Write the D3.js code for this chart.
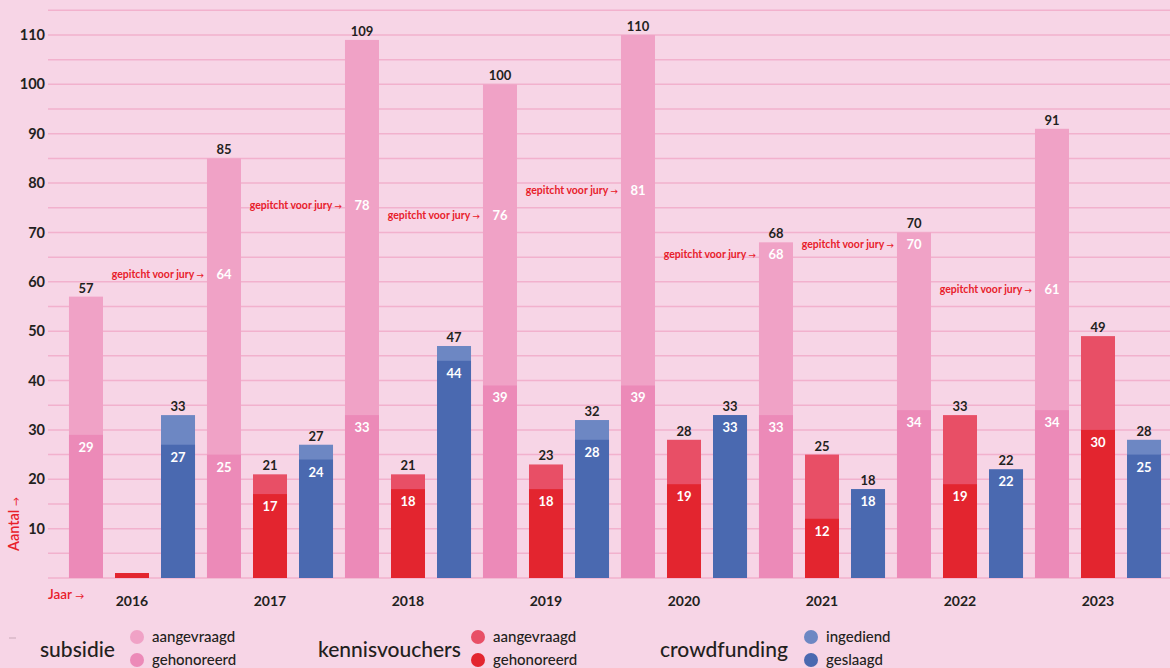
<!DOCTYPE html>
<html>
<head>
<meta charset="utf-8">
<script src="https://cdn.jsdelivr.net/npm/d3@7"></script>
<style>
  html, body { margin: 0; padding: 0; background: #f7d5e6; }
  svg { display: block; font-family: Lato, "Open Sans", sans-serif; }
</style>
</head>
<body>
<div id="chart"></div>
<script>
// data
const years = ['2016', '2017', '2018', '2019', '2020', '2021', '2022', '2023'];
const subsidieAangevraagd = [57, 85, 109, 100, 110, 68, 70, 91];
const subsidieGehonoreerd = [29, 25, 33, 39, 39, 33, 34, 34];
const subsidiePitch = [null, 64, 78, 76, 81, 68, 70, 61];
const kvAangevraagd = [1, 21, 21, 23, 28, 25, 33, 49];
const kvGehonoreerd = [1, 17, 18, 18, 19, 12, 19, 30];
const cfIngediend = [33, 27, 47, 32, 33, 18, 22, 28];
const cfGeslaagd = [27, 24, 44, 28, 33, 18, 22, 25];
const yTicks = [10, 20, 30, 40, 50, 60, 70, 80, 90, 100, 110];

const width = 1170, height = 668;

const series = [
  { key: 'subsidie', total: subsidieAangevraagd, part: subsidieGehonoreerd,
    light: '#f0a2c6', dark: '#ec8ab8', labels: ['aangevraagd', 'gehonoreerd'] },
  { key: 'kennisvouchers', total: kvAangevraagd, part: kvGehonoreerd,
    light: '#e84f66', dark: '#e3252f', labels: ['aangevraagd', 'gehonoreerd'] },
  { key: 'crowdfunding', total: cfIngediend, part: cfGeslaagd,
    light: '#6d87c3', dark: '#4a69b0', labels: ['ingediend', 'geslaagd'] }
];

const svg = d3.select('#chart').append('svg')
  .attr('width', width)
  .attr('height', height);

svg.append('rect').attr('width', width).attr('height', height).attr('fill', '#f7d5e6');

const y = d3.scaleLinear().domain([0, 110]).range([578, 35]);
const x0 = d3.scaleBand().domain(years).range([63, 1167]);
const x1 = d3.scaleBand().domain(series.map(s => s.key))
  .range([0, x0.bandwidth()])
  .paddingInner(0.2609)
  .paddingOuter(0.13);

// gridlines every 5
svg.append('g')
  .selectAll('line')
  .data(d3.range(0, 120, 5))
  .enter()
  .append('line')
  .attr('x1', 48).attr('x2', width)
  .attr('y1', d => y(d)).attr('y2', d => y(d))
  .attr('stroke', '#f2b1cd')
  .attr('stroke-width', 1.5);

// y tick labels
svg.append('g')
  .selectAll('text')
  .data(yTicks)
  .enter()
  .append('text')
  .attr('x', 45)
  .attr('y', d => y(d))
  .attr('dy', '0.35em')
  .attr('text-anchor', 'end')
  .attr('font-size', 14.5)
  .attr('font-weight', 700)
  .attr('fill', '#231f20')
  .text(d => d);

// red label with a small arrow behind it
function arrowText(sel, label, size, arrowSize) {
  sel.append('tspan').text(label + ' ');
  sel.append('tspan').attr('font-size', arrowSize).text('\u2192');
}

// bars
const groups = svg.append('g')
  .selectAll('g')
  .data(years)
  .enter()
  .append('g')
  .attr('transform', d => `translate(${x0(d)},0)`);

series.forEach(s => {
  groups.each(function(year, i) {
    const g = d3.select(this);
    const bx = x1(s.key), bw = x1.bandwidth();
    const total = s.total[i], part = s.part[i];

    g.append('rect')
      .attr('x', bx).attr('width', bw)
      .attr('y', y(total)).attr('height', y(0) - y(total))
      .attr('fill', s.light);
    g.append('rect')
      .attr('x', bx).attr('width', bw)
      .attr('y', y(part)).attr('height', y(0) - y(part))
      .attr('fill', s.dark);

    if (total >= 5) {
      g.append('text')
        .attr('x', bx + bw / 2)
        .attr('y', y(total) - 4)
        .attr('text-anchor', 'middle')
        .attr('font-size', 13)
        .attr('font-weight', 700)
        .attr('fill', '#231f20')
        .text(total);
    }
    if (part >= 5) {
      g.append('text')
        .attr('x', bx + bw / 2)
        .attr('y', y(part) + 17)
        .attr('text-anchor', 'middle')
        .attr('font-size', 13)
        .attr('font-weight', 700)
        .attr('fill', '#fff')
        .text(part);
    }
    if (s.key === 'subsidie' && subsidiePitch[i] != null) {
      const p = subsidiePitch[i];
      g.append('text')
        .attr('x', bx + bw / 2)
        .attr('y', y(p) + 17)
        .attr('text-anchor', 'middle')
        .attr('font-size', 13)
        .attr('font-weight', 700)
        .attr('fill', '#fff')
        .text(p);
      g.append('text')
        .attr('x', bx - 3)
        .attr('y', y(p) + 16)
        .attr('text-anchor', 'end')
        .attr('font-size', 10.5)
        .attr('font-weight', 700)
        .attr('fill', '#e8202a')
        .call(arrowText, 'gepitcht voor jury', 10.5, 7.5);
    }
  });
});

// year labels
svg.append('g')
  .selectAll('text')
  .data(years)
  .enter()
  .append('text')
  .attr('x', d => x0(d) + x0.bandwidth() / 2)
  .attr('y', 606)
  .attr('text-anchor', 'middle')
  .attr('font-size', 14)
  .attr('font-weight', 700)
  .attr('fill', '#231f20')
  .text(d => d);

// axis titles
svg.append('text')
  .attr('x', 48).attr('y', 599)
  .attr('font-size', 13.5)
  .attr('font-weight', 600)
  .attr('fill', '#e8202a')
  .call(arrowText, 'Jaar', 13.5, 9);

svg.append('text')
  .attr('transform', 'translate(19,551) rotate(-90)')
  .attr('font-size', 14.5)
  .attr('font-weight', 600)
  .attr('fill', '#e8202a')
  .call(arrowText, 'Aantal', 14.5, 9);

svg.append('line')
  .attr('x1', 9).attr('x2', 16).attr('y1', 638).attr('y2', 638)
  .attr('stroke', '#c9a9b8').attr('stroke-width', 1);

// legend
const legendPos = [
  { title: 40, dot: 137 },
  { title: 318, dot: 478 },
  { title: 660, dot: 811 }
];

series.forEach((s, i) => {
  const lp = legendPos[i];
  const lg = svg.append('g');
  lg.append('text')
    .attr('x', lp.title).attr('y', 657)
    .attr('font-size', 21)
    .attr('font-weight', 500)
    .attr('fill', '#231f20')
    .text(s.key);
  [s.light, s.dark].forEach((c, j) => {
    lg.append('circle')
      .attr('cx', lp.dot).attr('cy', 637 + j * 23)
      .attr('r', 7)
      .attr('fill', c);
    lg.append('text')
      .attr('x', lp.dot + 15).attr('y', 637 + j * 23)
      .attr('dy', '0.35em')
      .attr('font-size', 15)
      .attr('font-weight', 500)
      .attr('fill', '#231f20')
      .text(s.labels[j]);
  });
});
</script>
</body>
</html>
